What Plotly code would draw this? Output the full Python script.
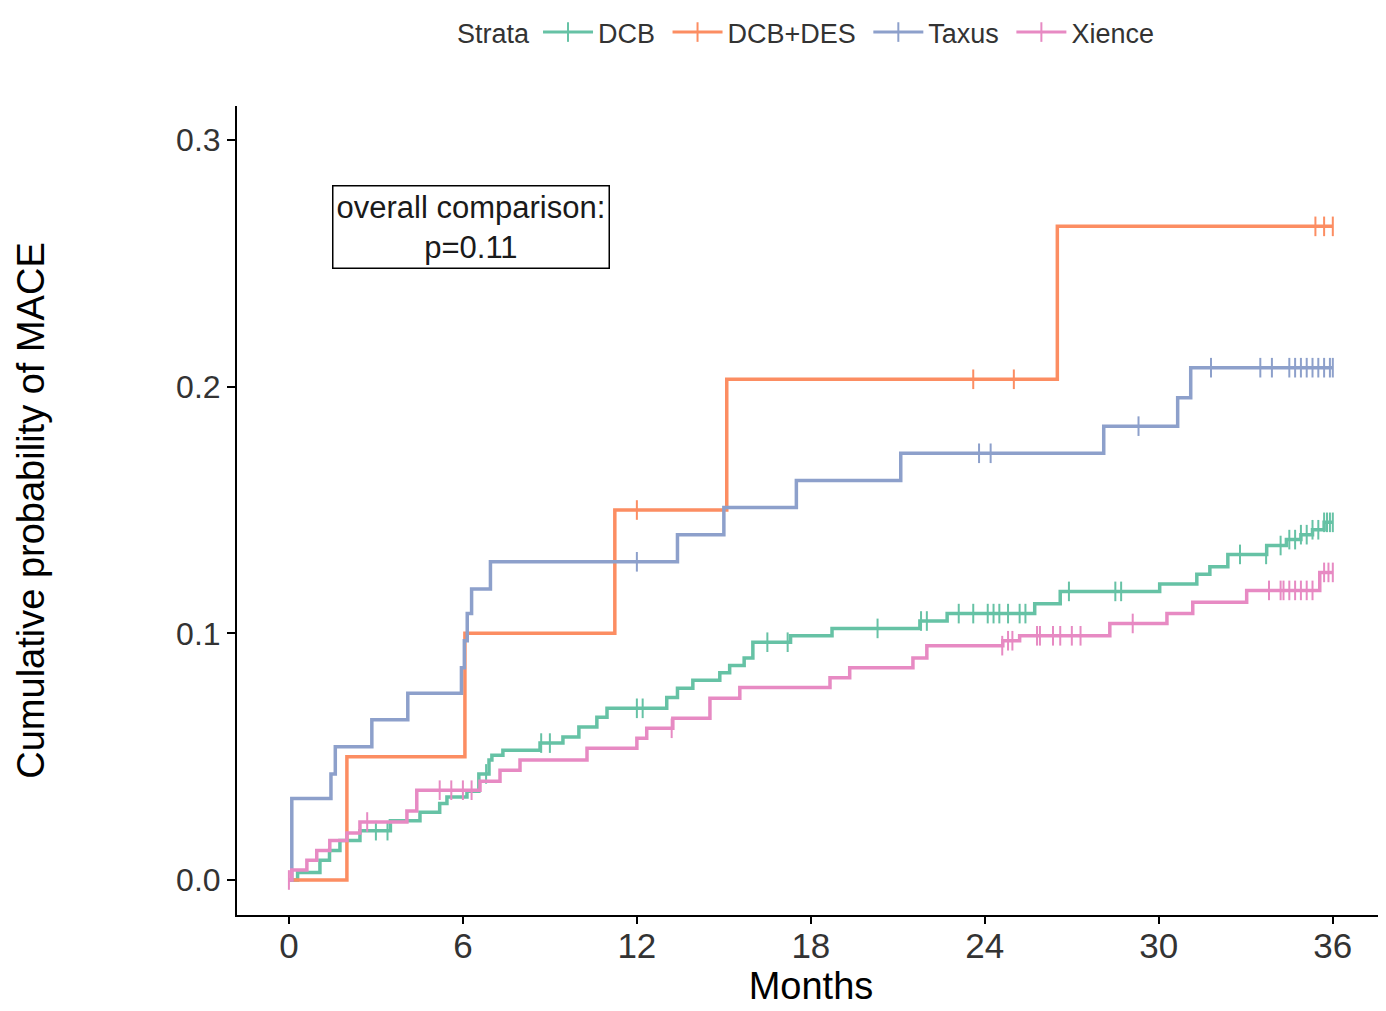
import numpy as np
import plotly.graph_objects as go

# ---------------- data ----------------
groups = ["DCB", "DCB+DES", "Taxus", "Xience"]
group_colors = ["#66C2A5", "#FC8D62", "#8DA0CB", "#E78AC3"]

# DCB
dcb_t = [0, 0.3, 1.07, 1.4, 1.76, 2.45, 3.5, 4.52, 5.2, 5.45, 6.14, 6.55, 6.9, 7.0, 7.38,
         8.66, 9.45, 10.0, 10.62, 10.97, 13.03, 13.4, 13.93, 14.86, 15.2, 15.7, 16.0, 17.3,
         18.73, 21.76, 22.7, 25.72, 26.6, 30.03, 31.31, 31.76, 32.38, 33.72, 34.4, 34.9,
         35.3, 35.7]
dcb_p = [0, 0.003, 0.008, 0.012, 0.016, 0.020, 0.024, 0.0275, 0.031, 0.0336, 0.036, 0.043,
         0.0486, 0.0506, 0.0526, 0.0555, 0.058, 0.062, 0.066, 0.0696, 0.074, 0.0777, 0.081,
         0.084, 0.087, 0.090, 0.0964, 0.099, 0.102, 0.105, 0.108, 0.112, 0.117, 0.120, 0.124,
         0.127, 0.132, 0.1356, 0.138, 0.140, 0.142, 0.145]
dcb_cens = [3.0, 3.4, 6.8, 8.7, 9.0, 12.0, 12.2, 16.5, 17.2, 20.3, 21.8, 22.0, 23.1, 23.6,
            24.1, 24.3, 24.5, 24.8, 25.2, 25.4, 26.9, 28.5, 28.7, 32.8, 33.7, 34.2, 34.5,
            34.7, 34.9, 35.1, 35.3, 35.5, 35.7, 35.8, 35.9, 36.0]

# DCB+DES
dcbdes_t = [0, 2.0, 6.07, 11.24, 15.1, 26.5]
dcbdes_p = [0, 0.05, 0.10, 0.15, 0.203, 0.265]
dcbdes_cens = [12.0, 23.6, 25.0, 35.4, 35.7, 36.0]

# Taxus
taxus_t = [0, 0.1, 1.45, 1.6, 2.86, 4.1, 5.95, 6.05, 6.15, 6.3, 6.95, 13.4, 15.0, 17.5,
           21.1, 28.1, 30.65, 31.1]
taxus_p = [0, 0.033, 0.043, 0.054, 0.065, 0.0757, 0.086, 0.097, 0.108, 0.118, 0.129, 0.140,
           0.151, 0.162, 0.173, 0.184, 0.1955, 0.2077]
taxus_cens = [12.0, 23.8, 24.2, 29.3, 31.8, 33.5, 33.9, 34.5, 34.7, 34.9, 35.1, 35.3, 35.5,
              35.7, 35.9, 36.0]

# Xience
xience_t = [0, 0.1, 0.62, 0.96, 1.41, 2.0, 2.45, 4.07, 4.41, 6.59, 7.28, 7.97, 10.28, 12.0,
            12.34, 13.24, 14.52, 15.55, 18.66, 19.34, 21.52, 22.0, 24.62, 25.2, 28.31, 30.28,
            31.17, 33.03, 35.55]
xience_p = [0, 0.004, 0.008, 0.012, 0.016, 0.019, 0.0235, 0.028, 0.0364, 0.040, 0.0445,
            0.0486, 0.0534, 0.0575, 0.0615, 0.0656, 0.0737, 0.078, 0.082, 0.086, 0.090, 0.095,
            0.097, 0.099, 0.104, 0.108, 0.1126, 0.1174, 0.1247]
xience_cens = [0.0, 2.7, 5.2, 5.6, 6.0, 6.3, 13.2, 24.6, 24.8, 24.95, 25.8, 25.9, 26.35,
               26.6, 27.0, 27.3, 29.1, 33.8, 34.2, 34.3, 34.5, 34.7, 34.9, 35.1, 35.3, 35.7,
               35.85, 36.0]

series_t = [dcb_t, dcbdes_t, taxus_t, xience_t]
series_p = [dcb_p, dcbdes_p, taxus_p, xience_p]
series_c = [dcb_cens, dcbdes_cens, taxus_cens, xience_cens]

x_ticks = [0, 6, 12, 18, 24, 30, 36]
y_ticks = [0.0, 0.1, 0.2, 0.3]
y_tick_labels = ["0.0", "0.1", "0.2", "0.3"]

FONT = "Liberation Sans, Arial, Helvetica, sans-serif"

fig = go.Figure()

for name, col, t, p, c in zip(groups, group_colors, series_t, series_p, series_c):
    t = np.asarray(t, float)
    p = np.asarray(p, float)
    c = np.asarray(c, float)
    t_end = max(t.max(), c.max())
    xs = np.append(t, t_end)
    ys = np.append(p, p[-1])
    fig.add_trace(go.Scatter(x=xs, y=ys, mode="lines", line=dict(color=col, width=3.5, shape="hv"),
                             showlegend=False, hoverinfo="skip"))
    idx = np.searchsorted(t, c, side="right") - 1
    fig.add_trace(go.Scatter(x=c, y=p[idx], mode="markers",
                             marker=dict(symbol="line-ns", size=14, color=col,
                                         line=dict(color=col, width=2)),
                             showlegend=False, hoverinfo="skip"))
    # legend entry (line + cross)
    fig.add_trace(go.Scatter(x=[None], y=[None], mode="lines+markers", name=name + "\u00a0",
                             line=dict(color=col, width=3),
                             marker=dict(symbol="line-ns", size=14, color=col,
                                         line=dict(color=col, width=2))))

fig.add_annotation(x=6.27, y=0.2646, xref="x", yref="y",
                   text="overall comparison:<br>p=0.11", showarrow=False,
                   font=dict(family=FONT, size=31, color="#1a1a1a"),
                   bordercolor="black", borderwidth=1.5, borderpad=3, bgcolor="white",
                   align="center")

fig.update_layout(
    width=1378, height=1003,
    margin=dict(l=229, r=1, t=97, b=96),
    paper_bgcolor="white", plot_bgcolor="white",
    font=dict(family=FONT, color="#4D4D4D"),
    legend=dict(orientation="h", x=0.5, xanchor="center", y=1.09, yanchor="middle",
                title=dict(text="Strata", font=dict(size=27, color="#333333")),
                font=dict(size=27, color="#333333"), itemwidth=50,
                bgcolor="rgba(0,0,0,0)"),
    xaxis=dict(range=[-1.79, 37.8], tickvals=x_ticks, ticks="outside", ticklen=7,
               tickwidth=2, tickcolor="black", showline=True, linecolor="black",
               linewidth=2, showgrid=False, zeroline=False, ticklabelstandoff=-8,
               tickfont=dict(size=35, color="#333333"),
               title=dict(text="Months", font=dict(size=38, color="black"), standoff=2)),
    yaxis=dict(range=[-0.0142, 0.3138], tickvals=y_ticks, ticktext=y_tick_labels,
               ticks="outside", ticklen=8, tickwidth=2, tickcolor="black",
               showline=True, linecolor="black", linewidth=2, showgrid=False,
               zeroline=False, tickfont=dict(size=32, color="#333333"),
               title=dict(text="Cumulative probability of MACE",
                          font=dict(size=38, color="black"), standoff=120)),
)

fig.write_html("out.html")
